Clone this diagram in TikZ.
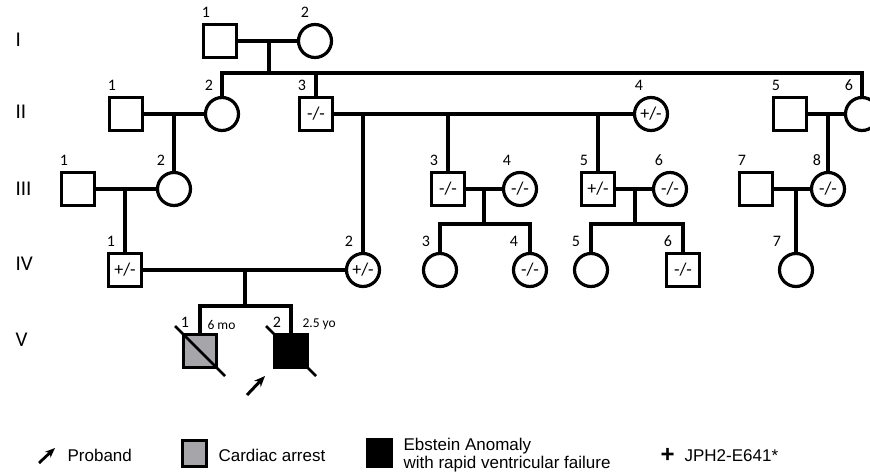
\documentclass[tikz,border=0pt]{standalone}
\usepackage{fontspec}
\setmainfont{Carlito}
\newfontfamily\legfont{Liberation Sans}
\usetikzlibrary{arrows.meta}
\definecolor{cagray}{RGB}{166,166,170}

\begin{document}
\begin{tikzpicture}[x=1pt,y=-1pt,line width=3.2pt,
  male/.style={draw,rectangle,minimum size=33pt,inner sep=0pt,font=\fontsize{18}{18}\selectfont},
  female/.style={draw,circle,minimum size=33pt,inner sep=0pt,font=\fontsize{18}{18}\selectfont},
  num/.style={font=\fontsize{16}{16}\selectfont,inner sep=0pt,anchor=south,yshift=4pt},
  gen/.style={font=\fontsize{21}{21}\selectfont,inner sep=0pt,anchor=west},
  leg/.style={font=\legfont\fontsize{17}{18}\selectfont,inner sep=0pt,anchor=west,align=left}]
\useasboundingbox (0,0) rectangle (870,473);
% generation numbers
\node[gen] (gI) at (14,40) {I};
\node[gen] (gII) at (14,112) {II};
\node[gen] (gIII) at (14,189) {III};
\node[gen] (gIV) at (14,264) {IV};
\node[gen] (gV) at (14,340) {V};
% generation I
\node[male,label={[num,xshift=-14pt]north:1}] (I1) at (220,41) {};
\node[female,label={[num,xshift=-10pt]north:2}] (I2) at (315,41) {};
% generation II
\node[male,label={[num,xshift=-14pt]north:1}] (II1) at (126,114) {};
\node[female,label={[num,xshift=-13pt]north:2}] (II2) at (222,114) {};
\node[male,label={[num,xshift=-14pt]north:3}] (II3) at (316,114) {-/-};
\node[female,label={[num,xshift=-12pt]north:4}] (II4) at (651,114) {+/-};
\node[male,label={[num,xshift=-14pt]north:5}] (II5) at (790,114) {};
\node[female,label={[num,xshift=-13pt]north:6}] (II6) at (862,114) {};
% generation III
\node[male,label={[num,xshift=-14pt]north:1}] (III1) at (78,189) {};
\node[female,label={[num,xshift=-13pt]north:2}] (III2) at (174,189) {};
\node[male,label={[num,xshift=-14pt]north:3}] (III3) at (448,189) {-/-};
\node[female,label={[num,xshift=-13pt]north:4}] (III4) at (520,189) {-/-};
\node[male,label={[num,xshift=-14pt]north:5}] (III5) at (598,189) {+/-};
\node[female,label={[num,xshift=-11pt]north:6}] (III6) at (670,189) {-/-};
\node[male,label={[num,xshift=-14pt]north:7}] (III7) at (756,189) {};
\node[female,label={[num,xshift=-11pt]north:8}] (III8) at (828,189) {-/-};
% generation IV
\node[male,label={[num,xshift=-14pt]north:1}] (IV1) at (125,270) {+/-};
\node[female,label={[num,xshift=-14pt]north:2}] (IV2) at (363,270) {+/-};
\node[female,label={[num,xshift=-14pt]north:3}] (IV3) at (440,270) {};
\node[female,label={[num,xshift=-16pt]north:4}] (IV4) at (530,270) {-/-};
\node[female,label={[num,xshift=-15pt]north:5}] (IV5) at (591,270) {};
\node[male,label={[num,xshift=-15pt]north:6}] (IV6) at (683,270) {-/-};
\node[female,label={[num,xshift=-19pt]north:7}] (IV7) at (796,270) {};
% generation V
\node[male,fill=cagray,label={[num,xshift=-15pt]north:1}] (V1) at (200,351) {};
\node[male,fill=black,label={[num,xshift=-14pt]north:2}] (V2) at (291,351) {};
\node[font=\fontsize{13.5}{13.5}\selectfont,inner sep=0pt,anchor=west] (V1age) at (206,325) {6 mo};
\node[font=\fontsize{13.5}{13.5}\selectfont,inner sep=0pt,anchor=west] (V2age) at (301,324) {2.5 yo};
\draw[line width=2.8pt] (V1) ++(-25,-25) -- ++(50,50);
\draw[line width=2.8pt] (V2) ++(-25,-25) -- ++(50,50);
\coordinate (pa) at (247,395);
\coordinate (pb) at (265,376);
\draw[line width=3pt,-{Stealth[length=11pt,width=9pt]}] (pa) -- (pb);
% lines of descent
\coordinate (mI) at (269,41);
\coordinate (sI) at (269,73);
\draw (I1) -- (I2);
\draw (mI) -- (sI);
\draw (II2) |- (sI) -| (II6);
\draw (II3) -- (II3 |- sI);
\draw (II1) -- (II2);
\coordinate (mII1) at (174,114);
\draw (mII1) -- (III2);
\draw (II3) -- (II4);
\coordinate (mII3) at (363,114);
\coordinate (sII3a) at (448,114);
\coordinate (sII3b) at (598,114);
\draw (mII3) -- (IV2);
\draw (sII3a) -- (III3);
\draw (sII3b) -- (III5);
\draw (II5) -- (II6);
\coordinate (mII5) at (828,114);
\draw (mII5) -- (III8);
\draw (III1) -- (III2);
\coordinate (mIII1) at (125,189);
\draw (mIII1) -- (IV1);
\draw (III3) -- (III4);
\coordinate (mIII3) at (484,189);
\coordinate (sIII3) at (484,224);
\draw (mIII3) -- (sIII3);
\draw (IV3) |- (sIII3) -| (IV4);
\draw (III5) -- (III6);
\coordinate (mIII5) at (635,189);
\coordinate (sIII5) at (635,224);
\draw (mIII5) -- (sIII5);
\draw (IV5) |- (sIII5) -| (IV6);
\draw (III7) -- (III8);
\coordinate (mIII7) at (796,189);
\draw (mIII7) -- (IV7);
\draw (IV1) -- (IV2);
\coordinate (mIV) at (245,270);
\coordinate (sIV) at (245,306);
\draw (mIV) -- (sIV);
\draw (V1) |- (sIV) -| (V2);
% legend
\coordinate (la) at (39,463);
\coordinate (lb) at (55,448);
\draw[line width=2.8pt,-{Stealth[length=10pt,width=8pt]}] (la) -- (lb);
\node[leg] (lprob) at (66,455.5) {Proband};
\node[draw,fill=cagray,minimum width=24pt,minimum height=26pt,inner sep=0pt] (lca) at (194.5,453.5) {};
\node[leg] (lcat) at (217,455.5) {Cardiac arrest};
\node[draw,fill=black,minimum width=24pt,minimum height=26pt,inner sep=0pt] (lea) at (379.5,453) {};
\node[leg] (leat) at (402,455.5) {Ebstein Anomaly\\with rapid ventricular failure};
\node[font=\legfont\bfseries\fontsize{24}{24}\selectfont,inner sep=0pt] (lplus) at (667.5,455) {+};
\node[leg] (lgene) at (683,455.5) {JPH2-E641*};
\end{tikzpicture}
\end{document}
